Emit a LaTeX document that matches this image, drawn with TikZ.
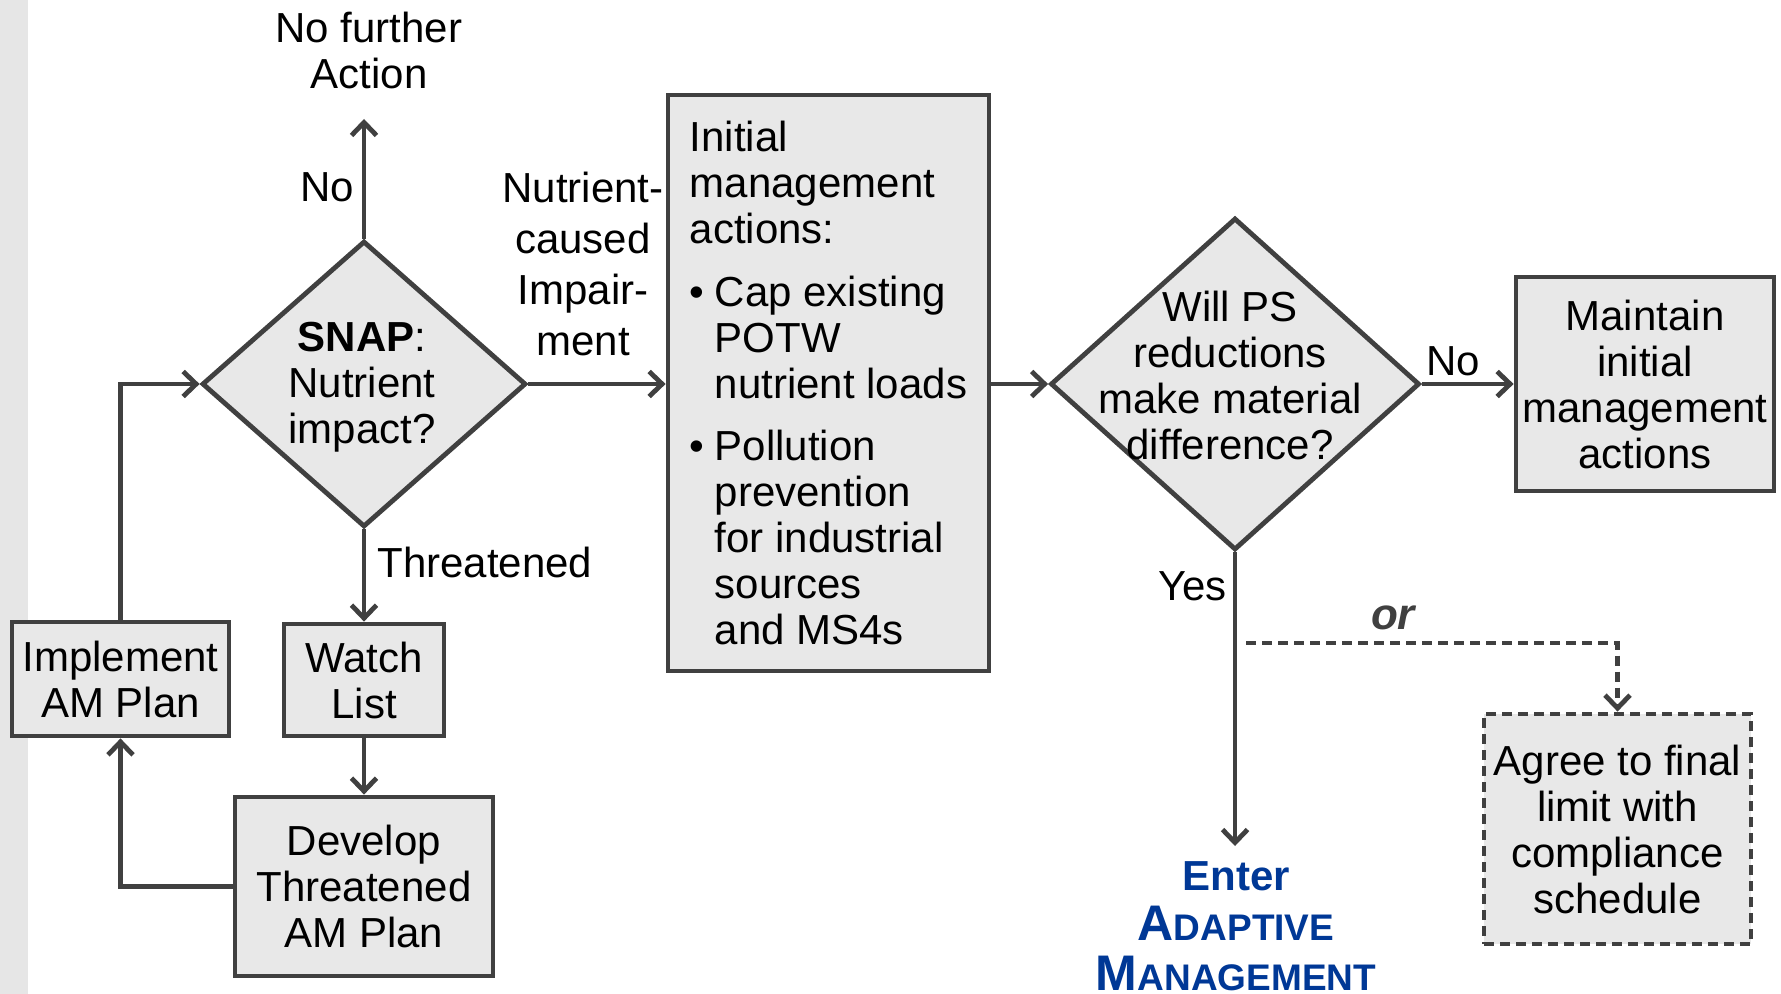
\documentclass[tikz,border=0pt]{standalone}
\usepackage{fontspec}
\setmainfont{Liberation Sans}
\usetikzlibrary{arrows.meta,shapes.geometric}
\definecolor{linegray}{HTML}{404040}
\definecolor{boxfill}{HTML}{E8E8E8}
\definecolor{stripgray}{HTML}{E6E6E6}
\definecolor{amblue}{RGB}{0,56,150}
\newcommand\mysc[2]{{\fontsize{25}{25}\selectfont #1}{\fontsize{18.5}{18.5}\selectfont #2}}
\newcommand\bul{\makebox[12.5pt][l]{\textbullet}}
\newcommand\ind{\hspace*{12.5pt}}
\begin{document}
\begin{tikzpicture}[x=0.5pt,y=-0.5pt,
  every node/.style={font=\fontsize{21}{23}\selectfont},
  box/.style={draw=linegray, fill=boxfill, line width=2.4pt, rectangle, align=center, inner sep=2pt},
  dbox/.style={box, dash pattern=on 5pt off 3pt},
  dia/.style={draw=linegray, fill=boxfill, line width=2.4pt, diamond, inner sep=0pt},
  txt/.style={align=center, inner sep=0pt},
  arr/.style={draw=linegray, line width=2.4pt, -{Straight Barb[length=6.5pt,width=12.5pt]}},
  dasharr/.style={arr, dash pattern=on 5pt off 3pt},
  lbl/.style={inner sep=0pt}]
\useasboundingbox (0,0) rectangle (1781,994);
\fill[stripgray] (0,0) rectangle (28,994);

% diamonds
\node[dia, minimum width=162pt, minimum height=143pt] (snap) at (364,384) {};
\node[txt, anchor=north] (snaptext) at (362,322) {\textbf{SNAP}:\\Nutrient\\impact?};
\node[dia, minimum width=184.5pt, minimum height=166pt] (ps) at (1235,384) {};
\node[txt, anchor=north] (pstext) at (1230,291) {Will PS\\reductions\\make material\\difference?};

% boxes
\node[box, minimum width=160.5pt, minimum height=288pt, align=left] (init) at (828.5,383)
  {Initial\\management\\actions:\\[8.5pt]
   \bul Cap existing\\\ind POTW\\\ind nutrient loads\\[8pt]
   \bul Pollution\\\ind prevention\\\ind for industrial\\\ind sources\\\ind and MS4s};
\node[box, minimum width=129pt, minimum height=107pt] (maintain) at (1645,384) {Maintain\\initial\\management\\actions};
\node[dbox, minimum width=133.5pt, minimum height=115pt] (agree) at (1617.5,829) {Agree to final\\limit with\\compliance\\schedule};
\node[box, minimum width=108.5pt, minimum height=57pt] (implement) at (120.5,679) {Implement\\AM Plan};
\node[box, minimum width=80pt, minimum height=56pt] (watch) at (364,680) {Watch\\List};
\node[box, minimum width=129pt, minimum height=89.5pt] (develop) at (364,886.5) {Develop\\Threatened\\AM Plan};

% free texts
\node[txt, anchor=north] (nofurther) at (369,12) {No further\\Action};
\node[txt, anchor=north, font=\fontsize{21}{25.5}\selectfont] (nutlabel) at (583,172) {Nutrient-\\caused\\Impair-\\ment};
\node[txt, anchor=north, text=amblue, font=\bfseries\fontsize{21}{25}\selectfont] (enter) at (1236,861)
  {Enter\\\mysc{A}{DAPTIVE}\\\mysc{M}{ANAGEMENT}};

\coordinate (notip) at (364,119);
\coordinate (entertip) at (1235,846);
\coordinate (orsplit) at (1246,643);

% connectors
\draw[arr] (snap.north) -- (notip);
\node[lbl] (nolbl) at (327,187) {No};
\draw[arr] (snap.east) -- (snap.east -| init.west);
\draw[arr] (init.east |- ps.west) -- (ps.west);
\draw[arr] (ps.east) -- (maintain.west);
\node[lbl] (no2lbl) at (1453,361) {No};
\draw[arr] (snap.south) -- (watch.north);
\node[lbl, anchor=west] (thrlbl) at (377,562) {Threatened};
\draw[arr] (watch.south) -- (develop.north);
\draw[arr] (develop.west) -| (implement.south);
\draw[arr] (implement.north) |- (snap.west);
\draw[arr] (ps.south) -- (entertip);
\node[lbl, anchor=east] (yeslbl) at (1227,586) {Yes};
\draw[dasharr] (orsplit) -| (agree.north);
\node[lbl, text=linegray, font=\bfseries\itshape\fontsize{22}{24}\selectfont] (orlbl) at (1393,618) {or};
\end{tikzpicture}
\end{document}
